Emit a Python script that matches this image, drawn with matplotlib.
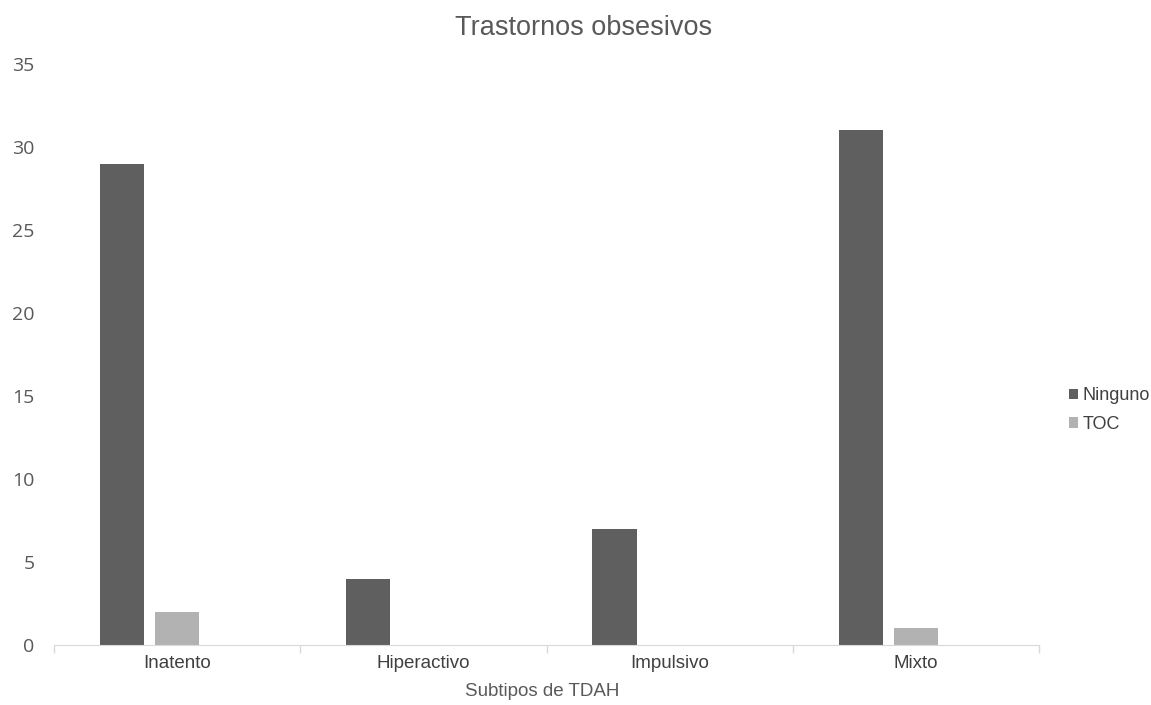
import numpy as np
import matplotlib.pyplot as plt

categories = ['Inatento', 'Hiperactivo', 'Impulsivo', 'Mixto']
ninguno = [29, 4, 7, 31]
toc = [2, 0, 0, 1]

dark = '#5f5f5f'
light = '#b2b2b2'
text_grey = '#595959'

plt.rcParams['font.family'] = ['Liberation Sans', 'DejaVu Sans']

fig = plt.figure(figsize=(11.51, 7.05), dpi=100)
ax = fig.add_axes([54 / 1151, 1 - 645 / 705, (1039 - 54) / 1151, (645 - 64) / 705])

x = np.arange(len(categories))
width = 0.179
step = 0.224
ax.bar(x - step, ninguno, width, color=dark, label='Ninguno')
ax.bar(x, toc, width, color=light, label='TOC')

ax.set_xlim(-0.5, len(categories) - 0.5)
ax.set_ylim(0, 35)
ax.set_yticks(np.arange(0, 36, 5))
ax.tick_params(axis='y', length=0, labelsize=14, labelcolor=text_grey, pad=14)
for lbl in ax.get_yticklabels():
    lbl.set_family(['Open Sans', 'DejaVu Sans'])

ax.set_xticks(x)
ax.set_xticklabels(categories)
ax.set_xticks(np.arange(-0.5, len(categories), 1), minor=True)
ax.tick_params(axis='x', which='major', length=0, labelsize=13.5, labelcolor='#404040', pad=7)
ax.tick_params(axis='x', which='minor', length=6, color='#d9d9d9', width=1)

for side in ['top', 'right', 'left']:
    ax.spines[side].set_visible(False)
ax.spines['bottom'].set_color('#d9d9d9')

fig.text(584 / 1151, 1 - 28 / 705, 'Trastornos obsesivos', ha='center', va='center',
         fontsize=19.5, color=text_grey)
fig.text(542 / 1151, 1 - 691 / 705, 'Subtipos de TDAH', ha='center', va='center',
         fontsize=13.5, color=text_grey)

ax.legend(loc='center left', bbox_to_anchor=(1069 / 1151, 1 - 410 / 705),
          bbox_transform=fig.transFigure, frameon=False, fontsize=13,
          borderpad=0, borderaxespad=0,
          handlelength=0.5, handleheight=0.5, handletextpad=0.25, labelspacing=0.65,
          labelcolor='#404040')

fig.savefig('out.png', dpi=100, facecolor='white')
